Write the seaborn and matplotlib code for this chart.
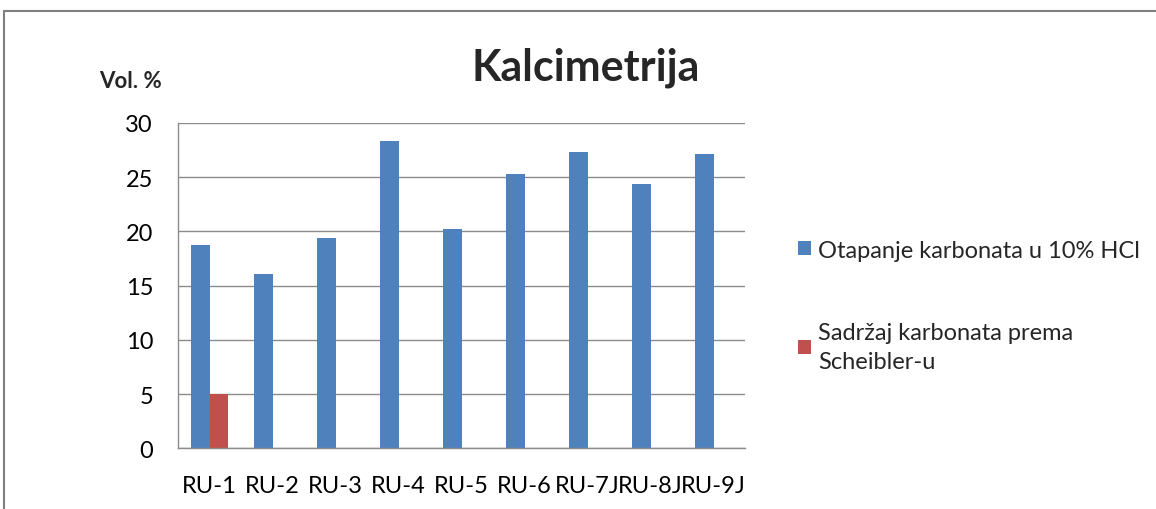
import numpy as np
import pandas as pd
import matplotlib
matplotlib.use('Agg')
import matplotlib.pyplot as plt
from matplotlib.patches import Patch
from matplotlib.lines import Line2D
import seaborn as sns

# Data
samples = ['RU-1', 'RU-2', 'RU-3', 'RU-4', 'RU-5', 'RU-6', 'RU-7J', 'RU-8J', 'RU-9J']
hcl_values = [18.7, 16.1, 19.4, 28.3, 20.2, 25.3, 27.3, 24.35, 27.1]
scheibler_values = [5.0, np.nan, np.nan, np.nan, np.nan, np.nan, np.nan, np.nan, np.nan]
series_names = ['Otapanje karbonata u 10% HCl',
                'Sadržaj karbonata prema\nScheibler-u']
series_colors = ['#4F81BD', '#C0504D']
y_ticks = [0, 5, 10, 15, 20, 25, 30]

sns.set_style('white')
plt.rcParams['font.family'] = ['Lato', 'DejaVu Sans']

df = pd.DataFrame({
    'sample': samples * 2,
    'value': hcl_values + scheibler_values,
    'series': [series_names[0]] * len(samples) + [series_names[1]] * len(samples),
})

fig = plt.figure(figsize=(11.56, 5.10), dpi=100)
ax = fig.add_axes([0.154, 0.119, 0.4905, 0.638])

sns.barplot(data=df, x='sample', y='value', hue='series',
            hue_order=series_names, palette=series_colors, saturation=1,
            width=0.58, gap=0, legend=False, ax=ax,
            edgecolor='none', errorbar=None)

ax.set_ylim(0, 30)
ax.set_yticks(y_ticks)
ax.set_xlim(-0.5, len(samples) - 0.5)
ax.yaxis.grid(True, color='#8c8c8c', linewidth=1.0)
ax.set_axisbelow(True)
ax.set_xlabel('')
ax.set_ylabel('')
for side in ['top', 'right']:
    ax.spines[side].set_visible(False)
for side in ['left', 'bottom']:
    ax.spines[side].set_color('#8c8c8c')
    ax.spines[side].set_linewidth(1.0)
ax.tick_params(axis='y', length=0, pad=18, labelsize=17, colors='#000000')
ax.tick_params(axis='x', length=0, pad=19, labelsize=17, colors='#000000')

# Titles
fig.text(0.507, 0.868, 'Kalcimetrija', ha='center', va='center',
         fontsize=31, fontweight='bold')
fig.text(0.113, 0.84, 'Vol. %', ha='center', va='center',
         fontsize=16, fontweight='bold')

# Legend
handles = [Patch(facecolor=c, edgecolor='none') for c in series_colors]
fig.legend(handles, series_names, loc='upper left',
           bbox_to_anchor=(0.672, 0.57), frameon=False, fontsize=17,
           handlelength=0.55, handleheight=0.55, handletextpad=0.3,
           labelspacing=2.6)
for txt in fig.legends[0].get_texts():
    txt.set_linespacing(1.45)

# Chart frame (top and left edges visible)
fig.add_artist(Line2D([0.0035, 0.0035], [0, 0.976], color='#808080', linewidth=1.5))
fig.add_artist(Line2D([0.0035, 1.0], [0.976, 0.976], color='#808080', linewidth=1.5))

fig.savefig('out.png', dpi=100)
